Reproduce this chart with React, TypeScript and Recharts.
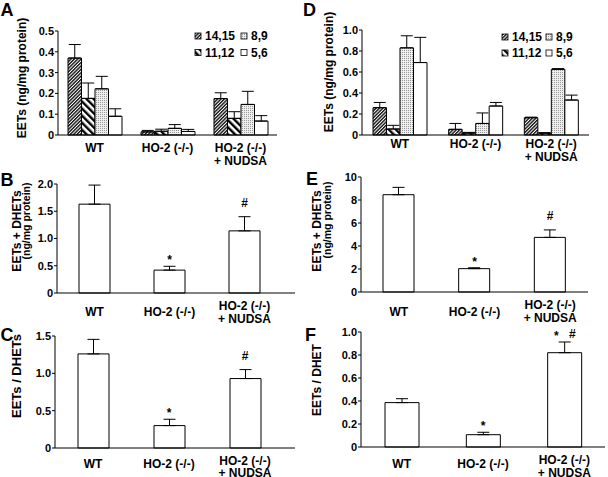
import React from 'react'
import { ComposedChart, Bar, Line, XAxis, YAxis, ErrorBar } from 'recharts'

const FONT = '"Liberation Sans", Arial, Helvetica, sans-serif'

const groups = ['WT', 'HO-2 (-/-)', 'HO-2 (-/-)\n+ NUDSA']
const isomers = ['14,15', '11,12', '8,9', '5,6']

// A: EETs by isomer (rows = isomer, cols = group)
const aValues = [
  [0.37, 0.015, 0.175],
  [0.176, 0.018, 0.08],
  [0.222, 0.032, 0.147],
  [0.09, 0.017, 0.067],
]
const aErrors = [
  [0.065, 0.007, 0.028],
  [0.074, 0.01, 0.032],
  [0.06, 0.018, 0.063],
  [0.036, 0.01, 0.026],
]

// D
const dValues = [
  [0.26, 0.054, 0.165],
  [0.057, 0.018, 0.018],
  [0.83, 0.11, 0.626],
  [0.69, 0.276, 0.333],
]
const dErrors = [
  [0.05, 0.056, 0.005],
  [0.035, 0.007, 0.004],
  [0.115, 0.1, 0.006],
  [0.24, 0.034, 0.047],
]

// B, E: EETs + DHETs
const bValues = [1.63, 0.42, 1.14]
const bErrors = [0.35, 0.07, 0.26]
const eValues = [8.46, 2.03, 4.75]
const eErrors = [0.64, 0.08, 0.65]

// C, F: ratios
const cValues = [1.26, 0.3, 0.93]
const cErrors = [0.195, 0.085, 0.12]
const fValues = [0.386, 0.107, 0.82]
const fErrors = [0.034, 0.021, 0.093]

const marksBC = ['', '*', '#']
const marksF = ['', '*', '*#']

const ticksA = [0, 0.1, 0.2, 0.3, 0.4, 0.5]
const ticksD = [0, 0.2, 0.4, 0.6, 0.8, 1.0]
const ticksB = [0, 0.5, 1.0, 1.5, 2.0]
const ticksE = [0, 2, 4, 6, 8, 10]
const ticksC = [0, 0.5, 1.0, 1.5]
const ticksF = [0, 0.2, 0.4, 0.6, 0.8, 1.0]

function isomerRows(values: number[][], errors: number[][]) {
  return groups.map((name, i) => {
    const row: any = { name }
    isomers.forEach((_, k) => {
      row['v' + k] = values[k][i]
      row['e' + k] = [0, errors[k][i]]
    })
    return row
  })
}

function singleRows(values: number[], errors: number[], marks: string[]) {
  return groups.map((name, i) => ({
    name,
    v: values[i],
    e: [0, errors[i]],
    top: values[i] + errors[i],
    mark: marks[i],
  }))
}

function Patterns({ id }: { id: string }) {
  return (
    <defs>
      <pattern id={`${id}-0`} width="2.4" height="2.4" patternUnits="userSpaceOnUse" patternTransform="rotate(45)">
        <rect width="2.4" height="2.4" fill="#fff" />
        <line x1="0.7" y1="0" x2="0.7" y2="2.4" stroke="#111" strokeWidth="1.4" />
      </pattern>
      <pattern id={`${id}-1`} width="5" height="5" patternUnits="userSpaceOnUse" patternTransform="rotate(-45)">
        <rect width="5" height="5" fill="#fff" />
        <line x1="1.2" y1="0" x2="1.2" y2="5" stroke="#000" strokeWidth="2.4" />
      </pattern>
      <pattern id={`${id}-2`} width="2" height="2" patternUnits="userSpaceOnUse">
        <rect width="2" height="2" fill="#eee" />
        <rect width="1" height="1" fill="#999" />
      </pattern>
    </defs>
  )
}

const fillsFor = (id: string) => [`url(#${id}-0)`, `url(#${id}-1)`, `url(#${id}-2)`, '#fff']

function CatTick(props: any) {
  const { x, y, payload, base, shift } = props
  const lines = String(payload.value).split('\n')
  const dy = lines.length === 1 ? base + shift : base
  return (
    <text x={x} y={y + dy} textAnchor="middle" fontFamily={FONT} fontWeight="bold" fontSize={12} fill="#000">
      {lines.map((l, i) => (
        <tspan key={i} x={x} dy={i === 0 ? 0 : 12.5}>
          {l}
        </tspan>
      ))}
    </text>
  )
}

function markDot(props: any) {
  const { cx, cy, payload, index } = props
  const m: string = payload.mark || ''
  const style = { fontFamily: FONT, fontWeight: 'bold' as const, fontSize: 12 }
  if (m.length === 0) return <g key={index} />
  if (m.length === 1) {
    return (
      <text key={index} x={cx} y={cy + (m === '*' ? -2 : -10)} textAnchor="middle" fill="#000" style={style}>
        {m}
      </text>
    )
  }
  return (
    <g key={index}>
      <text x={cx - 8} y={cy - 2} textAnchor="middle" fill="#000" style={style}>{m[0]}</text>
      <text x={cx + 8} y={cy - 4} textAnchor="middle" fill="#000" style={style}>{m[1]}</text>
    </g>
  )
}

const tickStyle = { fontSize: 11, fontWeight: 'bold', fill: '#000', fontFamily: FONT }
const fmt = (d: number) => (v: number) => (v === 0 ? '0' : v.toFixed(d))

interface Box {
  left: number
  top: number
  width: number
  height: number
  margin: { top: number; right: number; bottom: number; left: number }
  yWidth: number
  xHeight: number
  padRight: number
  base: number
  shift: number
}

function IsomerPanel({ id, data, ticks, box }: { id: string; data: any[]; ticks: number[]; box: Box }) {
  const fills = fillsFor(id)
  return (
    <div style={{ position: 'absolute', left: box.left, top: box.top }}>
      <ComposedChart width={box.width} height={box.height} data={data} margin={box.margin} barGap={0}>
        <Patterns id={id} />
        <XAxis
          dataKey="name"
          height={box.xHeight}
          interval={0}
          tickLine={false}
          tickSize={0}
          tickMargin={0}
          axisLine={{ stroke: '#000' }}
          padding={{ left: 0, right: box.padRight }}
          tick={<CatTick base={box.base} shift={box.shift} />}
        />
        <YAxis
          type="number"
          domain={[0, ticks[ticks.length - 1]]}
          ticks={ticks}
          interval={0}
          width={box.yWidth}
          tickFormatter={fmt(1)}
          tick={tickStyle}
          tickSize={3}
          tickMargin={1}
          axisLine={{ stroke: '#000' }}
          tickLine={{ stroke: '#000' }}
        />
        {isomers.map((iso, k) => (
          <Bar
            key={iso}
            name={iso}
            dataKey={'v' + k}
            fill={fills[k]}
            stroke="#000"
            strokeWidth={1}
            barSize={13.5}
            isAnimationActive={false}
          >
            <ErrorBar dataKey={'e' + k} width={6} stroke="#000" strokeWidth={1} direction="y" />
          </Bar>
        ))}
      </ComposedChart>
    </div>
  )
}

function SinglePanel({
  data,
  ticks,
  decimals,
  box,
  barSize,
}: {
  data: any[]
  ticks: number[]
  decimals: number
  box: Box
  barSize: number
}) {
  return (
    <div style={{ position: 'absolute', left: box.left, top: box.top }}>
      <ComposedChart width={box.width} height={box.height} data={data} margin={box.margin}>
        <XAxis
          dataKey="name"
          height={box.xHeight}
          interval={0}
          tickLine={false}
          tickSize={0}
          tickMargin={0}
          axisLine={{ stroke: '#000' }}
          padding={{ left: 0, right: box.padRight }}
          tick={<CatTick base={box.base} shift={box.shift} />}
        />
        <YAxis
          type="number"
          domain={[0, ticks[ticks.length - 1]]}
          ticks={ticks}
          interval={0}
          width={box.yWidth}
          tickFormatter={fmt(decimals)}
          tick={tickStyle}
          tickSize={3}
          tickMargin={1}
          axisLine={{ stroke: '#000' }}
          tickLine={{ stroke: '#000' }}
        />
        <Bar dataKey="v" fill="#fff" stroke="#000" strokeWidth={1} barSize={barSize} isAnimationActive={false}>
          <ErrorBar dataKey="e" width={6} stroke="#000" strokeWidth={1} direction="y" />
        </Bar>
        <Line dataKey="top" stroke="none" dot={markDot} activeDot={false} isAnimationActive={false} />
      </ComposedChart>
    </div>
  )
}

function Legend2x2({ id, x, y, col2, rowGap }: { id: string; x: number; y: number; col2: number; rowGap: number }) {
  const fills = fillsFor(id)
  return (
    <g>
      {isomers.map((iso, k) => {
        const col = k < 2 ? 0 : 1
        const row = k % 2
        const sx = x + col * col2
        const sy = y + row * rowGap
        return (
          <g key={iso}>
            <rect x={sx} y={sy - 3} width={6} height={6} fill={fills[k]} stroke="#000" strokeWidth={0.8} />
            <text x={sx + 10} y={sy + 4} fontFamily={FONT} fontWeight="bold" fontSize={12} fill="#000">
              {iso}
            </text>
          </g>
        )
      })}
    </g>
  )
}

function YLabel({ x, y, lines }: { x: number; y: number; lines: { text: string; dx: number; dy: number; size: number }[] }) {
  return (
    <g>
      {lines.map((l, i) => (
        <text
          key={i}
          x={0}
          y={0}
          transform={`translate(${x + l.dx},${y + l.dy}) rotate(-90)`}
          textAnchor="middle"
          fontFamily={FONT}
          fontWeight="bold"
          fontSize={l.size}
          fill="#000"
        >
          {l.text}
        </text>
      ))}
    </g>
  )
}

export default function App() {
  const letter = { fontFamily: FONT, fontWeight: 'bold' as const, fontSize: 18, fill: '#000' }
  return (
    <div style={{ position: 'relative', width: 608, height: 477, background: '#fff', overflow: 'hidden' }}>
      <style>{'body{margin:0}'}</style>
      <IsomerPanel
        id="pa"
        data={isomerRows(aValues, aErrors)}
        ticks={ticksA}
        box={{ left: 0, top: 0, width: 300, height: 170, margin: { top: 31, right: 23, bottom: 0, left: 0 }, yWidth: 58, xHeight: 35, padRight: 0, base: 17, shift: 0 }}
      />
      <IsomerPanel
        id="pd"
        data={isomerRows(dValues, dErrors)}
        ticks={ticksD}
        box={{ left: 300, top: 0, width: 308, height: 170, margin: { top: 30, right: 19, bottom: 0, left: 0 }, yWidth: 62, xHeight: 35, padRight: 0, base: 13, shift: 0 }}
      />
      <SinglePanel
        data={singleRows(bValues, bErrors, marksBC)}
        ticks={ticksB}
        decimals={1}
        barSize={31}
        box={{ left: 0, top: 160, width: 300, height: 185, margin: { top: 24, right: 5, bottom: 0, left: 0 }, yWidth: 57, xHeight: 52, padRight: 13, base: 17, shift: 6 }}
      />
      <SinglePanel
        data={singleRows(eValues, eErrors, marksBC)}
        ticks={ticksE}
        decimals={0}
        barSize={31}
        box={{ left: 300, top: 160, width: 308, height: 185, margin: { top: 17, right: 20, bottom: 0, left: 0 }, yWidth: 61, xHeight: 53, padRight: 0, base: 17, shift: 7 }}
      />
      <SinglePanel
        data={singleRows(cValues, cErrors, marksBC)}
        ticks={ticksC}
        decimals={1}
        barSize={31}
        box={{ left: 0, top: 320, width: 300, height: 157, margin: { top: 16, right: 5, bottom: 0, left: 0 }, yWidth: 55, xHeight: 29, padRight: 12, base: 16.5, shift: 3 }}
      />
      <SinglePanel
        data={singleRows(fValues, fErrors, marksF)}
        ticks={ticksF}
        decimals={1}
        barSize={34}
        box={{ left: 300, top: 320, width: 308, height: 157, margin: { top: 12, right: 3, bottom: 0, left: 0 }, yWidth: 61, xHeight: 30, padRight: 0, base: 17, shift: 4 }}
      />
      <svg width={608} height={477} style={{ position: 'absolute', left: 0, top: 0, pointerEvents: 'none' }}>
        <Patterns id="lg" />
        <text x={0.5} y={16} style={letter}>A</text>
        <text x={303} y={15.5} style={letter}>D</text>
        <text x={0.5} y={186} style={letter}>B</text>
        <text x={306} y={185} style={letter}>E</text>
        <text x={0.5} y={341} style={letter}>C</text>
        <text x={305} y={341} style={letter}>F</text>
        <Legend2x2 id="lg" x={195} y={36} col2={46} rowGap={16.5} />
        <Legend2x2 id="lg" x={502} y={37} col2={44} rowGap={16} />
        <YLabel x={26} y={78} lines={[{ text: 'EETs (ng/mg protein)', dx: 0, dy: 0, size: 12 }]} />
        <YLabel x={333} y={72} lines={[{ text: 'EETs (ng/mg protein)', dx: 0, dy: 0, size: 12 }]} />
        <YLabel
          x={21.3}
          y={231}
          lines={[
            { text: 'EETs + DHETs', dx: 0, dy: 0, size: 12 },
            { text: '(ng/mg protein)', dx: 9, dy: -10, size: 10.5 },
          ]}
        />
        <YLabel
          x={321.3}
          y={231}
          lines={[
            { text: 'EETs + DHETs', dx: 0, dy: 0, size: 12 },
            { text: '(ng/mg protein)', dx: 9.5, dy: -11, size: 10.5 },
          ]}
        />
        <YLabel x={21} y={376} lines={[{ text: 'EETs / DHETs', dx: 0, dy: 0, size: 13 }]} />
        <YLabel x={321} y={380} lines={[{ text: 'EETs / DHET', dx: 0, dy: 0, size: 12 }]} />
      </svg>
    </div>
  )
}
